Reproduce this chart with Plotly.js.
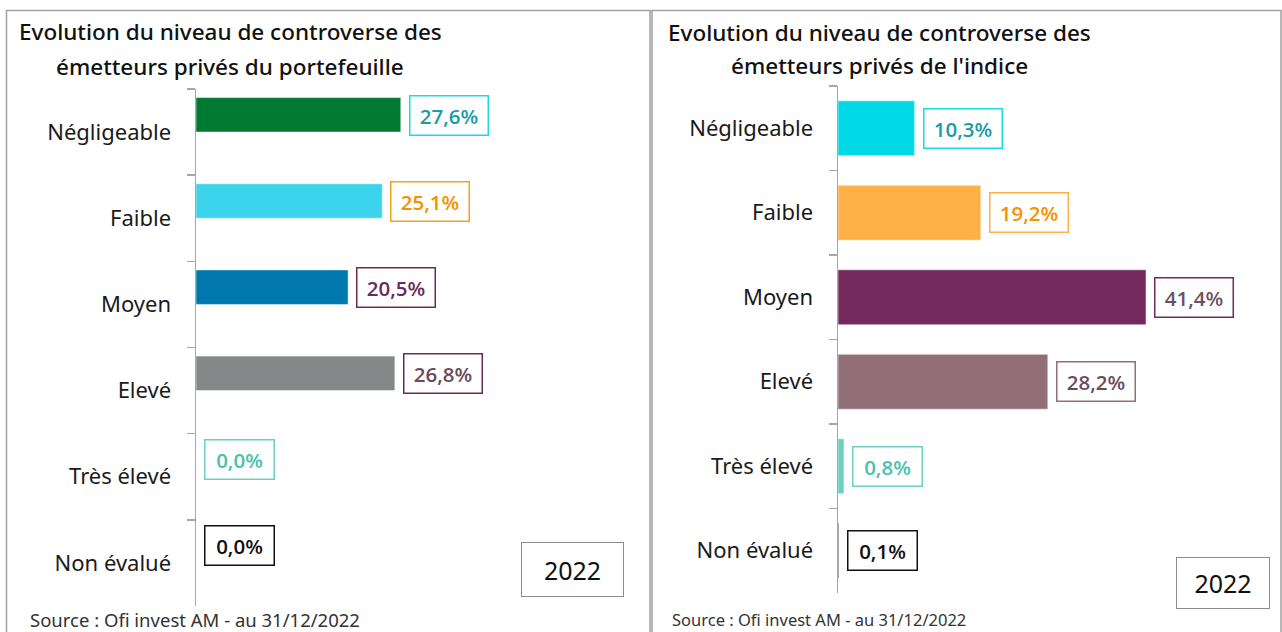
<!DOCTYPE html>
<html><head><meta charset="utf-8">
<script src="https://cdn.plot.ly/plotly-3.0.1.min.js"></script>
<style>html,body{margin:0;padding:0;background:#fff;}#chart{width:1282px;height:632px;}</style>
</head><body><div id="chart"></div>
<script>
// ---- data ----
const categories = ["Négligeable", "Faible", "Moyen", "Elevé", "Très élevé", "Non évalué"];
const portfolioValues = [27.6, 25.1, 20.5, 26.8, 0.0, 0.0];
const indexValues = [10.3, 19.2, 41.4, 28.2, 0.8, 0.1];
const portfolioLabels = ["27,6%", "25,1%", "20,5%", "26,8%", "0,0%", "0,0%"];
const indexLabels = ["10,3%", "19,2%", "41,4%", "28,2%", "0,8%", "0,1%"];
const leftTitle = ["Evolution du niveau de controverse des", "émetteurs privés du portefeuille"];
const rightTitle = ["Evolution du niveau de controverse des", "émetteurs privés de l'indice"];
const yearLabel = "2022";
const sourceText = "Source : Ofi invest AM - au 31/12/2022";

// ---- styles ----
const W = 1282, H = 632;
const px = v => v / W, py = v => 1 - v / H;
const leftBarColors = ["#007a33", "#3bd4ec", "#0077ad", "#858888", "#6ccfc0", "#000000"];
const leftTextColors = ["#1a9ba8", "#f39200", "#6b2a5b", "#6b4a5a", "#4dbfae", "#111111"];
const leftBorderColors = ["#1dd6e6", "#f7a11a", "#6b2a5b", "#6b2a5b", "#6ccfc0", "#111111"];
const rightBarColors = ["#00d9e6", "#ffb047", "#74295f", "#926e76", "#6ccfc0", "#000000"];
const rightTextColors = ["#1a9ba8", "#f39200", "#6b5262", "#6e4a58", "#4dbfae", "#111111"];
const rightBorderColors = ["#1dd6e6", "#ffb047", "#74295f", "#926e76", "#6ccfc0", "#111111"];

const labelFont = {family: "Noto Sans, sans-serif", size: 22, color: "#1a1a1a"};
const valueFamily = "Open Sans, sans-serif";

const traces = [
  {type: "bar", orientation: "h", y: categories, x: portfolioValues, xaxis: "x", yaxis: "y",
   marker: {color: leftBarColors, line: {color: "#ffffff", width: 0.5}}, width: 0.4, offset: -0.4, hoverinfo: "skip"},
  {type: "bar", orientation: "h", y: categories, x: indexValues, xaxis: "x2", yaxis: "y2",
   marker: {color: rightBarColors, line: {color: "#ffffff", width: 0.5}}, width: 0.65, hoverinfo: "skip"}
];

const annotations = [];
function valueBoxes(vals, labels, textColors, borderColors, xr, yr, ys) {
  vals.forEach((v, i) => {
    const n = labels[i].length;
    annotations.push({
      xref: xr, yref: yr, x: v, y: categories[i], xanchor: "left", yanchor: "middle",
      xshift: 8, yshift: ys, text: labels[i], showarrow: false,
      font: {family: valueFamily, size: 20.5, color: textColors[i], weight: 600},
      bordercolor: borderColors[i], borderwidth: 1.5, borderpad: 6,
      bgcolor: "#ffffff", width: n >= 5 ? 65 : 56, height: 26, align: "center"
    });
  });
}
valueBoxes(portfolioValues, portfolioLabels, leftTextColors, leftBorderColors, "x", "y", 17);
valueBoxes(indexValues, indexLabels, rightTextColors, rightBorderColors, "x2", "y2", 0);

function titleLines(lines, cx, y1, y2) {
  [y1, y2].forEach((yy, k) => annotations.push({
    xref: "paper", yref: "paper", x: px(cx), y: py(yy), xanchor: "center", yanchor: "middle",
    text: lines[k], showarrow: false,
    font: {family: "Noto Sans, sans-serif", size: 22.5, color: "#111111", weight: 500}
  }));
}
titleLines(leftTitle, 230, 31, 66);
titleLines(rightTitle, 879, 32, 65);

// year boxes
annotations.push({xref: "paper", yref: "paper", x: px(572.5), y: py(569.5), xanchor: "center", yanchor: "middle",
  text: yearLabel, showarrow: false, font: {family: "Noto Sans, sans-serif", size: 25, color: "#111"},
  bordercolor: "#8c8c8c", borderwidth: 1, width: 93, height: 45, borderpad: 4});
annotations.push({xref: "paper", yref: "paper", x: px(1223), y: py(583), xanchor: "center", yanchor: "middle",
  text: yearLabel, showarrow: false, font: {family: "Noto Sans, sans-serif", size: 25, color: "#111"},
  bordercolor: "#8c8c8c", borderwidth: 1, width: 84, height: 42, borderpad: 4});

// sources
annotations.push({xref: "paper", yref: "paper", x: px(28), y: py(619), xanchor: "left", yanchor: "middle",
  text: sourceText, showarrow: false, font: {family: "Noto Sans, sans-serif", size: 18.5, color: "#333"}});
annotations.push({xref: "paper", yref: "paper", x: px(670), y: py(619), xanchor: "left", yanchor: "middle",
  text: sourceText, showarrow: false, font: {family: "Noto Sans, sans-serif", size: 16.5, color: "#333"}});

const shapes = [
  {type: "rect", xref: "paper", yref: "paper", x0: px(6.5), x1: px(650), y0: py(700), y1: py(10.5),
   line: {color: "#a0a0a0", width: 1.5}},
  {type: "rect", xref: "paper", yref: "paper", x0: px(652), x1: px(1281), y0: py(700), y1: py(10.5),
   line: {color: "#a0a0a0", width: 1.5}}
];

const yaxisBase = {
  type: "category", autorange: "reversed", categoryorder: "array", categoryarray: categories,
  showline: true, linecolor: "#a6a6a6", linewidth: 1.5, ticks: "outside", tickson: "boundaries",
  ticklen: 8, tickcolor: "#a6a6a6", tickwidth: 1.5, showgrid: false, zeroline: false,
  tickfont: labelFont, ticklabelstandoff: 19, fixedrange: true
};

const layout = {
  width: W, height: H, margin: {l: 0, r: 0, t: 0, b: 0},
  paper_bgcolor: "#ffffff", plot_bgcolor: "rgba(0,0,0,0)", showlegend: false,
  xaxis: {domain: [px(196), px(196 + 40 * 7.42)], range: [0, 40], visible: false, fixedrange: true},
  yaxis: Object.assign({}, yaxisBase, {domain: [py(606), py(89)], anchor: "x"}),
  xaxis2: {domain: [px(838), px(838 + 50 * 7.44)], range: [0, 50], visible: false, fixedrange: true, anchor: "y2"},
  yaxis2: Object.assign({}, yaxisBase, {domain: [py(593), py(86)], anchor: "x2"}),
  annotations: annotations, shapes: shapes, bargap: 0.4
};

Plotly.newPlot("chart", traces, layout, {displayModeBar: false, staticPlot: true});
</script></body></html>
